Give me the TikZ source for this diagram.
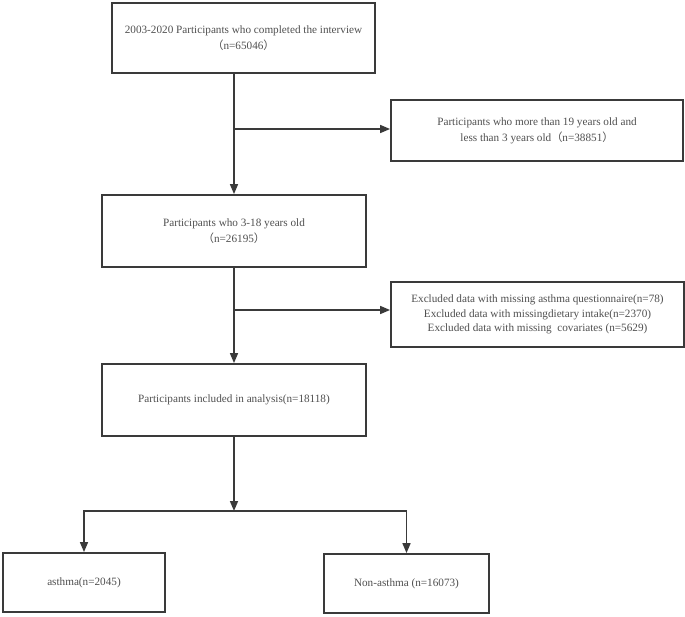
\documentclass[tikz,border=0pt]{standalone}
\usepackage{fontspec}
\setmainfont{Liberation Serif}
\newfontfamily\cjk{Noto Sans CJK SC}
\usetikzlibrary{arrows.meta}
\definecolor{linec}{HTML}{3A3A3A}
\definecolor{textc}{HTML}{505050}
\begin{document}
\begin{tikzpicture}[x=1pt,y=-1pt,
  box/.style={draw=linec, line width=1.8pt, fill=white, align=center, text=textc,
    font=\fontsize{11.2}{14.5}\selectfont, inner sep=0pt},
  conn/.style={draw=linec, line width=1.6pt},
  arr/.style={conn, -{Triangle[length=10pt,width=8pt]}}]
\useasboundingbox (0,0) rectangle (685,616);
\node[box, minimum width=263pt, minimum height=70pt] (b1) at (243.5,38)
  {2003-2020 Participants who completed the interview\\[1.5pt]{\cjk（}n=65046{\cjk）}};
\node[box, minimum width=292pt, minimum height=61pt] (r1) at (537,130.5)
  {Participants who more than 19 years old and\\[1.5pt]less than 3 years old{\cjk（}n=38851{\cjk）}};
\node[box, minimum width=264pt, minimum height=72pt] (b2) at (234,231)
  {Participants who 3-18 years old\\[2pt]{\cjk（}n=26195{\cjk）}};
\node[box, minimum width=293pt, minimum height=65pt] (r2) at (537.5,314.5)
  {Excluded data with missing asthma questionnaire(n=78)\\Excluded data with missingdietary intake(n=2370)\\Excluded data with missing\ \ covariates (n=5629)};
\node[box, minimum width=264pt, minimum height=72pt] (b3) at (234,400)
  {Participants included in analysis(n=18118)};
\node[box, minimum width=162pt, minimum height=59pt] (b4) at (84,582.5)
  {asthma(n=2045)};
\node[box, minimum width=165pt, minimum height=59pt] (b5) at (406.5,583.5)
  {Non-asthma (n=16073)};
\coordinate (j1) at (234,129);
\coordinate (j2) at (234,310);
\coordinate (s) at (234,511);
\draw[arr] (b1.south -| b2.north) -- (b2.north);
\draw[arr] (j1) -- (r1.west |- j1);
\draw[arr] (j2) -- (r2.west |- j2);
\draw[arr] (b2) -- (b3);
\draw[arr] (b3) -- (s);
\draw[arr] (s) -| (b4.north);
\draw[arr] (s) -| (b5.north);
\end{tikzpicture}
\end{document}
